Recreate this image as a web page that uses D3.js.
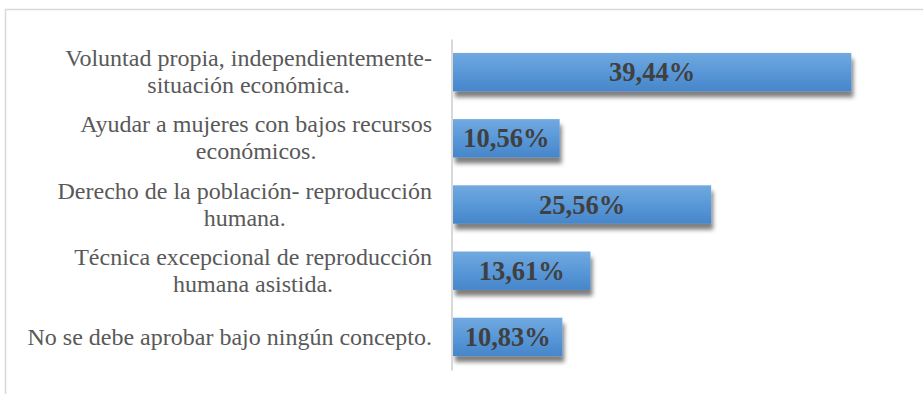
<!DOCTYPE html>
<html>
<head>
<meta charset="utf-8">
<script src="https://cdn.jsdelivr.net/npm/d3@7"></script>
<style>
  html, body { margin: 0; padding: 0; background: #fff; }
  svg { display: block; }
  text { font-family: "Liberation Serif", "Times New Roman", serif; }
</style>
</head>
<body>
<svg id="chart" width="923" height="394"></svg>
<script>
// Opinion categories, top to bottom (each entry is a list of wrapped lines)
const categories = [
  ["Voluntad propia, independientemente-", "situación económica."],
  ["Ayudar a mujeres con bajos recursos", "económicos."],
  ["Derecho de la población- reproducción", "humana."],
  ["Técnica excepcional de reproducción", "humana asistida."],
  ["No se debe aprobar bajo ningún concepto."]
];
// Share of responses, percent
const values = [39.44, 10.56, 25.56, 13.61, 10.83];
// Value labels shown on the bars
const valueLabels = ["39,44%", "10,56%", "25,56%", "13,61%", "10,83%"];

const svg = d3.select("#chart");
const W = 923, H = 394;

// Outer chart frame
svg.append("rect")
  .attr("x", 5.5).attr("y", 9.5)
  .attr("width", W + 10).attr("height", H + 10)
  .attr("fill", "#fff")
  .attr("stroke", "#d9d9d9")
  .attr("stroke-width", 1.5);

const plot = { left: 453, right: 907.5, top: 39, bottom: 370 };

const x = d3.scaleLinear().domain([0, 45]).range([plot.left, plot.right]);
const y = d3.scaleBand()
  .domain(d3.range(values.length))
  .range([plot.top, plot.bottom])
  .paddingInner(0.42)
  .paddingOuter(0.21);

const defs = svg.append("defs");
const grad = defs.append("linearGradient")
  .attr("id", "barGrad")
  .attr("x1", 0).attr("y1", 0).attr("x2", 0).attr("y2", 1);
grad.append("stop").attr("offset", "0%").attr("stop-color", "#71a9e0");
grad.append("stop").attr("offset", "55%").attr("stop-color", "#5796d7");
grad.append("stop").attr("offset", "100%").attr("stop-color", "#4686c9");

const shadow = defs.append("filter")
  .attr("id", "barShadow")
  .attr("x", "-10%").attr("y", "-40%")
  .attr("width", "130%").attr("height", "200%");
shadow.append("feDropShadow")
  .attr("dx", 2).attr("dy", 6)
  .attr("stdDeviation", 2.2)
  .attr("flood-color", "#000")
  .attr("flood-opacity", 0.5);

// Bars
svg.append("g")
  .selectAll("rect")
  .data(values)
  .join("rect")
  .attr("x", x(0))
  .attr("y", (d, i) => y(i))
  .attr("width", d => x(d) - x(0))
  .attr("height", y.bandwidth())
  .attr("fill", "url(#barGrad)")
  .attr("filter", "url(#barShadow)");

// Category axis line
const axis = d3.axisLeft(y).tickSize(0).tickFormat("");
const axisG = svg.append("g")
  .attr("transform", `translate(${plot.left - 1.5},0)`)
  .call(axis);
axisG.select(".domain")
  .attr("stroke", "#d9d9d9")
  .attr("stroke-width", 2);
axisG.selectAll(".tick text").remove();

// Value labels centred in the bars
svg.append("g")
  .selectAll("text")
  .data(values)
  .join("text")
  .attr("x", d => (x(0) + x(d)) / 2)
  .attr("y", (d, i) => y(i) + y.bandwidth() / 2)
  .attr("dy", "0.34em")
  .attr("text-anchor", "middle")
  .style("font-family", "'Liberation Serif', 'Times New Roman', serif")
  .style("font-weight", "bold")
  .style("font-size", "26.5px")
  .attr("fill", "#404040")
  .text((d, i) => valueLabels[i]);

// Category labels: wrapped lines centred within a block right-aligned to the axis
const labelRight = 432;
const lineH = 27;
const labelG = svg.append("g");

categories.forEach((lines, i) => {
  const cy = y(i) + y.bandwidth() / 2;
  const texts = lines.map((line, j) =>
    labelG.append("text")
      .attr("y", cy + (j - (lines.length - 1) / 2) * lineH)
      .attr("dy", "0.32em")
      .attr("text-anchor", "middle")
      .style("font-family", "'Liberation Serif', 'Times New Roman', serif")
      .style("font-size", "24px")
      .attr("fill", "#595959")
      .text(line)
  );
  const maxW = d3.max(texts, t => t.node().getComputedTextLength());
  texts.forEach(t => t.attr("x", labelRight - maxW / 2));
});
</script>
</body>
</html>
